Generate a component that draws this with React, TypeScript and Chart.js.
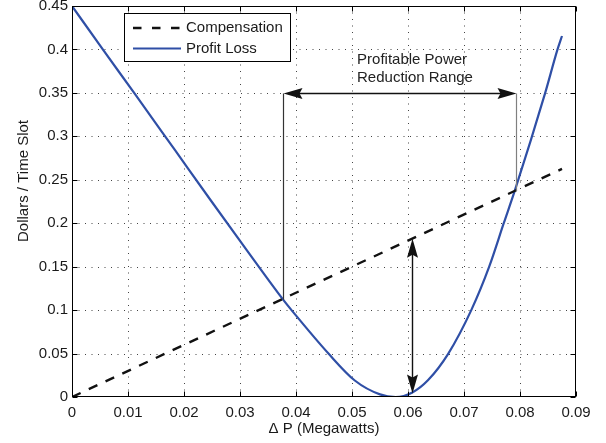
import React, { useEffect, useRef } from 'react';
import { Chart, registerables } from 'chart.js';

Chart.register(...registerables);

// ---- data ----
const xTicks = [0, 0.01, 0.02, 0.03, 0.04, 0.05, 0.06, 0.07, 0.08, 0.09];
const yTicks = [0, 0.05, 0.1, 0.15, 0.2, 0.25, 0.3, 0.35, 0.4, 0.45];

const seriesNames = ['Compensation', 'Profit Loss'];

const compensationX = [0, 0.0875];
const compensationY = [0, 0.2625];

const profitX = [
  0, 0.0055, 0.0111, 0.0184, 0.0247, 0.0312, 0.0377, 0.0392, 0.0458, 0.0505,
  0.055, 0.0578, 0.0607, 0.0636, 0.0672, 0.0713, 0.0745, 0.0771, 0.0791,
  0.0845, 0.0867, 0.0875,
];
const profitY = [
  0.45, 0.4, 0.35, 0.284, 0.227, 0.169, 0.112, 0.1, 0.05, 0.019,
  0.003, 0, 0.005, 0.0196, 0.05, 0.1, 0.15, 0.2, 0.238,
  0.35, 0.4, 0.4155,
];

// annotation values (data units)
const rangeX = [0.0377, 0.0793];
const rangeBottomY = [0.112, 0.237];
const rangeArrowY = 0.35;
const rangeLabel = ['Profitable Power', 'Reduction Range'];
const rangeLabelX = 0.0509;
const rangeLabelY = [0.3878, 0.3677];
const gapArrowX = 0.0607;
const gapArrowY = [0.004, 0.182];

const xTitle = '\u0394 P (Megawatts)';
const yTitle = 'Dollars / Time Slot';

const FONT = '"Liberation Sans", Arial, Helvetica, sans-serif';
const BLUE = '#2f4fa6';

function fmt(v: number) {
  return String(Number(v.toFixed(2)));
}

function arrowHead(ctx: CanvasRenderingContext2D, tx: number, ty: number, dx: number, dy: number) {
  const len = 19;
  const hw = 5.5;
  const notch = 3;
  const bx = tx - dx * len;
  const by = ty - dy * len;
  const px = -dy;
  const py = dx;
  ctx.beginPath();
  ctx.moveTo(tx, ty);
  ctx.lineTo(bx + px * hw, by + py * hw);
  ctx.lineTo(bx + dx * notch, by + dy * notch);
  ctx.lineTo(bx - px * hw, by - py * hw);
  ctx.closePath();
  ctx.fill();
}

export default function App() {
  const ref = useRef<HTMLCanvasElement>(null);

  useEffect(() => {
    document.body.style.margin = '0';
    const canvas = ref.current;
    if (!canvas) return;

    const plugin = {
      id: 'matlabStyle',
      beforeDatasetsDraw(chart: any) {
        const { ctx, chartArea: a, scales } = chart;
        const xs = scales.x;
        const ys = scales.y;
        ctx.save();
        ctx.strokeStyle = '#444';
        ctx.lineWidth = 1;
        ctx.setLineDash([1, 5.5]);
        xTicks.forEach((v, i) => {
          if (i === 0 || i === xTicks.length - 1) return;
          const px = Math.round(xs.getPixelForValue(v)) + 0.5;
          ctx.beginPath();
          ctx.moveTo(px, a.bottom);
          ctx.lineTo(px, a.top);
          ctx.stroke();
        });
        yTicks.forEach((v, i) => {
          if (i === 0 || i === yTicks.length - 1) return;
          const py = Math.round(ys.getPixelForValue(v)) + 0.5;
          ctx.beginPath();
          ctx.moveTo(a.left, py);
          ctx.lineTo(a.right, py);
          ctx.stroke();
        });
        ctx.restore();
      },
      afterDatasetsDraw(chart: any) {
        const { ctx, chartArea: a, scales } = chart;
        const xs = scales.x;
        const ys = scales.y;
        ctx.save();

        // range verticals
        const lx = Math.round(xs.getPixelForValue(rangeX[0])) + 0.5;
        const rx = Math.round(xs.getPixelForValue(rangeX[1])) + 0.5;
        const ay = Math.round(ys.getPixelForValue(rangeArrowY)) + 0.5;
        ctx.lineWidth = 1.2;
        ctx.strokeStyle = '#333';
        ctx.beginPath();
        ctx.moveTo(lx, ys.getPixelForValue(rangeBottomY[0]));
        ctx.lineTo(lx, ay);
        ctx.stroke();
        ctx.strokeStyle = '#808080';
        ctx.beginPath();
        ctx.moveTo(rx, ys.getPixelForValue(rangeBottomY[1]));
        ctx.lineTo(rx, ay);
        ctx.stroke();

        // horizontal double arrow
        ctx.strokeStyle = '#111';
        ctx.fillStyle = '#111';
        ctx.lineWidth = 1.4;
        ctx.beginPath();
        ctx.moveTo(lx + 10, ay);
        ctx.lineTo(rx - 10, ay);
        ctx.stroke();
        arrowHead(ctx, lx, ay, -1, 0);
        arrowHead(ctx, rx, ay, 1, 0);

        // vertical double arrow
        const gx = Math.round(xs.getPixelForValue(gapArrowX)) + 0.5;
        const gb = ys.getPixelForValue(gapArrowY[0]);
        const gt = ys.getPixelForValue(gapArrowY[1]);
        ctx.beginPath();
        ctx.moveTo(gx, gb - 10);
        ctx.lineTo(gx, gt + 10);
        ctx.stroke();
        arrowHead(ctx, gx, gb, 0, 1);
        arrowHead(ctx, gx, gt, 0, -1);

        // range label
        ctx.fillStyle = '#222';
        ctx.font = `15px ${FONT}`;
        ctx.textAlign = 'left';
        ctx.textBaseline = 'middle';
        rangeLabel.forEach((t, i) => {
          ctx.fillText(t, xs.getPixelForValue(rangeLabelX), ys.getPixelForValue(rangeLabelY[i]));
        });

        // axes box
        ctx.strokeStyle = '#000';
        ctx.lineWidth = 1;
        ctx.setLineDash([]);
        const L = Math.round(a.left) + 0.5;
        const R = Math.round(a.right) - 0.5;
        const T = Math.round(a.top) + 0.5;
        const B = Math.round(a.bottom) - 0.5;
        ctx.strokeRect(L, T, R - L, B - T);

        // inward tick marks on all four sides
        const tl = 5;
        ctx.beginPath();
        xTicks.forEach((v) => {
          const px = Math.round(xs.getPixelForValue(v)) + 0.5;
          ctx.moveTo(px, B);
          ctx.lineTo(px, B - tl);
          ctx.moveTo(px, T);
          ctx.lineTo(px, T + tl);
        });
        yTicks.forEach((v) => {
          const py = Math.round(ys.getPixelForValue(v)) + 0.5;
          ctx.moveTo(L, py);
          ctx.lineTo(L + tl, py);
          ctx.moveTo(R, py);
          ctx.lineTo(R - tl, py);
        });
        ctx.stroke();

        // legend
        const bx = 124.5, by = 13.5, bw = 166, bh = 48;
        ctx.fillStyle = '#fff';
        ctx.fillRect(bx, by, bw, bh);
        ctx.strokeStyle = '#000';
        ctx.strokeRect(bx, by, bw, bh);
        const rows = [28, 48.5];
        ctx.lineWidth = 2.4;
        ctx.strokeStyle = '#111';
        ctx.setLineDash([8.5, 10.5]);
        ctx.beginPath();
        ctx.moveTo(133, rows[0]);
        ctx.lineTo(182, rows[0]);
        ctx.stroke();
        ctx.setLineDash([]);
        ctx.strokeStyle = BLUE;
        ctx.lineWidth = 2.2;
        ctx.beginPath();
        ctx.moveTo(133, rows[1]);
        ctx.lineTo(181, rows[1]);
        ctx.stroke();
        ctx.fillStyle = '#1a1a1a';
        ctx.font = `15px ${FONT}`;
        ctx.textAlign = 'left';
        ctx.textBaseline = 'middle';
        ctx.fillText(seriesNames[0], 186, rows[0]);
        ctx.fillText(seriesNames[1], 186, rows[1]);

        // axis titles
        ctx.textAlign = 'center';
        ctx.textBaseline = 'middle';
        ctx.fillText(xTitle, (a.left + a.right) / 2, 429);
        ctx.save();
        ctx.translate(28, 181);
        ctx.rotate(-Math.PI / 2);
        ctx.textBaseline = 'alphabetic';
        ctx.fillText(yTitle, 0, 0);
        ctx.restore();

        ctx.restore();
      },
    };

    const chart = new Chart(canvas, {
      type: 'line',
      data: {
        datasets: [
          {
            label: seriesNames[0],
            data: compensationX.map((x, i) => ({ x, y: compensationY[i] })),
            borderColor: '#111',
            borderWidth: 2.4,
            borderDash: [9.5, 9],
            pointRadius: 0,
            fill: false,
            tension: 0,
          },
          {
            label: seriesNames[1],
            data: profitX.map((x, i) => ({ x, y: profitY[i] })),
            borderColor: BLUE,
            borderWidth: 2.2,
            pointRadius: 0,
            fill: false,
            cubicInterpolationMode: 'monotone',
          },
        ],
      },
      options: {
        animation: false,
        responsive: false,
        devicePixelRatio: 1,
        layout: { padding: { left: 0, top: 6, right: 30, bottom: 0 } },
        plugins: {
          legend: { display: false },
          tooltip: { enabled: false },
          title: { display: false },
        },
        scales: {
          x: {
            type: 'linear',
            min: 0,
            max: 0.09,
            grid: { display: false, drawTicks: false },
            border: { display: false },
            afterBuildTicks: (s: any) => {
              s.ticks = xTicks.map((v) => ({ value: v }));
            },
            afterFit: (s: any) => {
              s.height = 46;
              s.paddingLeft = 0;
              s.paddingRight = 0;
            },
            ticks: {
              autoSkip: false,
              maxRotation: 0,
              padding: 7,
              color: '#1a1a1a',
              font: { family: FONT, size: 15 },
              callback: (v: any) => fmt(Number(v)),
            },
          },
          y: {
            type: 'linear',
            min: 0,
            max: 0.45,
            grid: { display: false, drawTicks: false },
            border: { display: false },
            afterBuildTicks: (s: any) => {
              s.ticks = yTicks.map((v) => ({ value: v }));
            },
            afterFit: (s: any) => {
              s.width = 72;
              s.paddingTop = 0;
              s.paddingBottom = 0;
            },
            ticks: {
              autoSkip: false,
              padding: 4,
              color: '#1a1a1a',
              font: { family: FONT, size: 15 },
              callback: (v: any) => fmt(Number(v)),
            },
          },
        },
      },
      plugins: [plugin],
    } as any);

    return () => chart.destroy();
  }, []);

  return (
    <canvas
      ref={ref}
      width={606}
      height={443}
      style={{ display: 'block', width: 606, height: 443 }}
    />
  );
}
